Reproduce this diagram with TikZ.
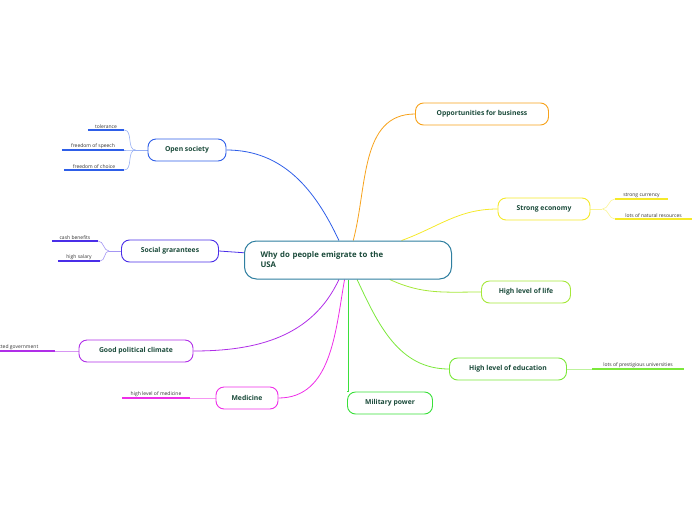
\documentclass[tikz,border=0pt]{standalone}
\usepackage{fontspec}
\setmainfont{Open Sans}
\usetikzlibrary{backgrounds}
\definecolor{txt}{HTML}{1A4A3A}
\definecolor{cmain}{HTML}{2F7FA0}
\definecolor{corange}{HTML}{F7A21B}
\definecolor{cyellow}{HTML}{F5E92A}
\definecolor{clime}{HTML}{A6E83A}
\definecolor{cgreen}{HTML}{7BE83A}
\definecolor{cgreen2}{HTML}{3AE03A}
\definecolor{cmagenta}{HTML}{EE2EE8}
\definecolor{cpurple}{HTML}{B02EE8}
\definecolor{cindigo}{HTML}{4A2EE8}
\definecolor{cblue}{HTML}{2E5EE8}
\tikzset{
  topic/.style={draw=#1, line width=0.9pt, rounded corners=8pt, fill=white,
    text=txt, font=\bfseries\fontsize{6.8}{8}\selectfont, minimum height=22pt, inner xsep=8pt},
  leaf/.style={font=\fontsize{5}{6}\selectfont, text=black!80, anchor=south, inner sep=1.5pt},
  uline/.style={draw=#1, line width=1.3pt},
  branch/.style={draw=#1, line width=0.8pt},
  twig/.style={draw=#1!50, line width=0.6pt}
}
\begin{document}
\begin{tikzpicture}[x=1pt,y=-1pt]
\useasboundingbox (0,0) rectangle (696,520);

\node[topic=cmain, line width=1pt, minimum height=38pt, text width=175pt, align=left,
  font=\bfseries\fontsize{7.8}{10}\selectfont, rounded corners=12pt, inner xsep=16pt] (c) at (348,260)
  {Why do people emigrate to the\\USA};

\node[topic=corange, minimum width=133pt] (bus) at (482,114) {Opportunities for business};
\node[topic=cyellow, minimum width=92pt] (eco) at (544,209) {Strong economy};
\node[topic=clime, minimum width=89pt] (life) at (526,292) {High level of life};
\node[topic=cgreen, minimum width=117pt] (edu) at (508,369) {High level of education};
\node[topic=cgreen2, minimum width=85pt] (mil) at (390,403) {Military power};
\node[topic=cmagenta, minimum width=62pt] (med) at (247,398) {Medicine};
\node[topic=cpurple, minimum width=114pt] (pol) at (136,351) {Good political climate};
\node[topic=cindigo, minimum width=97pt] (soc) at (170,251) {Social grarantees};
\node[topic=cblue, minimum width=78pt] (open) at (187,150) {Open society};

% leaves
\node[leaf, minimum width=36pt] (tol) at (106,130) {tolerance};
\node[leaf, minimum width=62pt] (speech) at (93,150) {freedom of speech};
\node[leaf, minimum width=60pt] (choice) at (94,170) {freedom of choice};
\node[leaf, minimum width=46pt] (cash) at (75,241) {cash benefits};
\node[leaf, minimum width=42pt] (sal) at (79,261) {high salary};
\node[leaf, minimum width=80pt, align=right] (gov) at (15,351) {\hfill elected government};
\node[leaf, minimum width=68pt] (hmed) at (156,398) {high level of medicine};
\node[leaf, minimum width=53pt] (cur) at (641.5,199) {strong currency};
\node[leaf, minimum width=77pt] (res) at (653.5,219) {lots of natural resources};
\node[leaf, minimum width=92pt] (uni) at (638,369) {lots of prestigious universities};

\foreach \n/\col in {tol/cblue, speech/cblue, choice/cblue, cash/cindigo, sal/cindigo,
  gov/cpurple, hmed/cmagenta, cur/cyellow, res/cyellow, uni/cgreen}
  \draw[uline=\col] (\n.south west) -- (\n.south east);

\begin{scope}[on background layer]
\draw[branch=corange] (c) to[out=75,in=180] (bus.west);
\draw[branch=cyellow] (c) to[out=20,in=180] (eco.west);
\draw[branch=clime] (c) to[out=-25,in=180] (life.west);
\draw[branch=cgreen] (c) to[out=-65,in=180] (edu.west);
\draw[branch=cgreen2] (c) -- (c |- mil.north) -- (mil.north west);
\draw[branch=cmagenta] (c) to[out=-100,in=0] (med.east);
\draw[branch=cpurple] (c) to[out=-115,in=0] (pol.east);
\draw[branch=cindigo] (c) -- (soc.east);
\draw[branch=cblue] (c) to[out=115,in=0] (open.east);

\draw[twig=cblue] (open.west) -- +(-12,0) coordinate (o1);
\foreach \n in {tol, speech, choice}
  \draw[twig=cblue] (o1) to[out=180,in=0] (\n.south east);
\draw[twig=cindigo] (soc.west) -- +(-12,0) coordinate (s1);
\foreach \n in {cash, sal}
  \draw[twig=cindigo] (s1) to[out=180,in=0] (\n.south east);
\draw[twig=cpurple] (pol.west) -- (gov.south east);
\draw[twig=cmagenta] (med.west) -- (hmed.south east);
\draw[twig=cyellow] (eco.east) -- +(12,0) coordinate (e1);
\foreach \n in {cur, res}
  \draw[twig=cyellow] (e1) to[out=0,in=180] (\n.south west);
\draw[twig=cgreen] (edu.east) -- (uni.south west);
\end{scope}
\end{tikzpicture}
\end{document}
